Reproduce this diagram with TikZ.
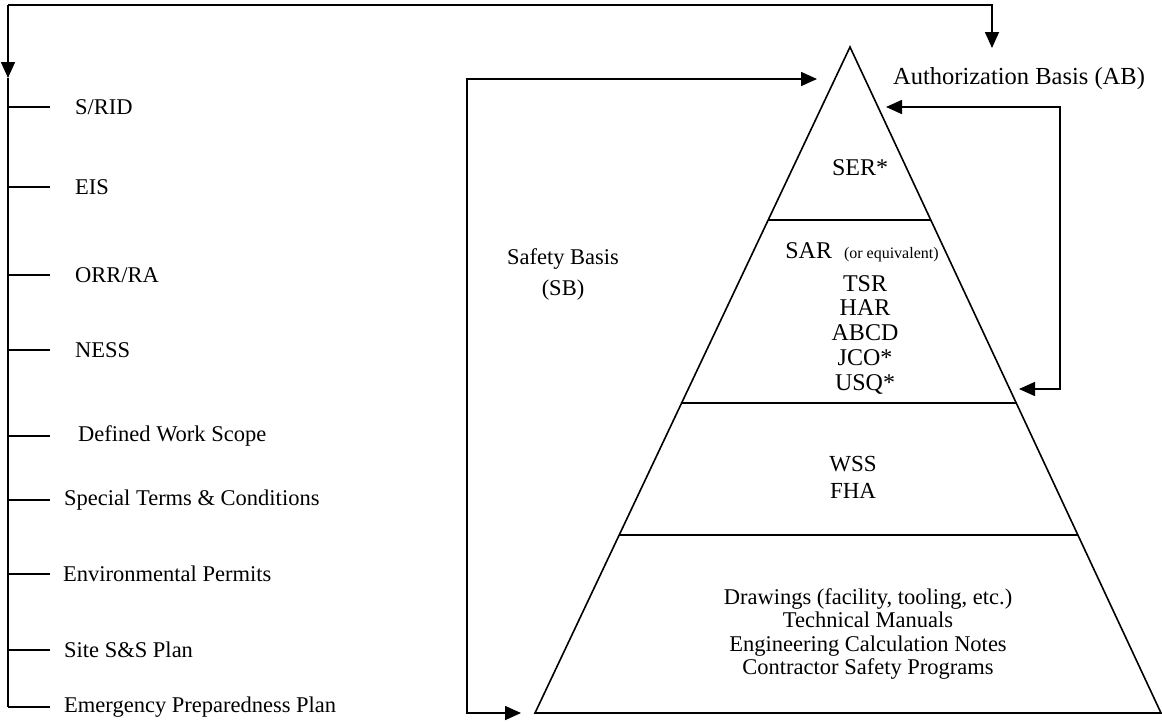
\documentclass[tikz,border=0pt]{standalone}
\usepackage{fontspec}
\setmainfont{Liberation Serif}
\usetikzlibrary{arrows.meta,calc}
\tikzset{
  ln/.style={line width=1.6pt},
  tip/.style={-{Triangle[length=16pt,width=14pt]}},
  tips/.style={{Triangle[length=16pt,width=14pt]}-{Triangle[length=16pt,width=14pt]}},
  lbl/.style={anchor=west,inner sep=0pt,font=\fontsize{22.5}{24}\selectfont},
  txt/.style={inner sep=0pt,align=center,font=\fontsize{22.5}{23.5}\selectfont},
}
\begin{document}
\begin{tikzpicture}[x=1pt,y=-1pt]
\useasboundingbox (0,0) rectangle (1162,724);
% left list
\foreach \i/\yy/\xx/\t in {1/107/75/{S/RID},2/187/75/EIS,3/275/75/{ORR/RA},4/350/75/NESS,5/436/78/Defined Work Scope,6/500/64/Special Terms \& Conditions,7/574/63/Environmental Permits,8/650/64/Site S\&S Plan,9/707/64/Emergency Preparedness Plan}{
  \node[lbl] (l\i) at (\xx,\yy) {\t};
  \coordinate (s\i) at (8,\yy);
  \draw[ln] (s\i) -- ++(42,0);
}
\coordinate (tl) at (8,5);
\coordinate (tr) at (992,5);
\coordinate (abT) at (992,48);
\coordinate (la) at (8,78);
\draw[ln,tip] (tl) -- (tr) -- (abT);
\draw[ln,tip] (tl) -- (la);
\draw[ln] (la) -- (s9);
% pyramid
\coordinate (A) at (850,47);
\coordinate (BL) at (535,713);
\coordinate (BR) at (1161,713);
\draw[ln,line join=miter] (A) -- (BL) -- (BR) -- cycle;
\foreach \f in {0.2598,0.5345,0.7327}{
  \draw[ln] ($(A)!\f!(BL)$) -- ($(A)!\f!(BR)$);
}
% texts in pyramid
\node[txt,font=\fontsize{24}{25}\selectfont] (ser) at (860,168) {SER*};
\node[txt,anchor=base,font=\fontsize{24}{25}\selectfont] (sar) at (862,258) {SAR\ \ {\fontsize{16}{17}\selectfont(or equivalent)}};
\node[txt,anchor=north,font=\fontsize{24}{24.8}\selectfont] (sarl) at (865,275) {TSR\\HAR\\ABCD\\JCO*\\USQ*};
\node[txt,font=\fontsize{23}{27}\selectfont] (wss) at (853,477) {WSS\\FHA};
\node[txt] (drw) at (868,634) {Drawings (facility, tooling, etc.)\\Technical Manuals\\Engineering Calculation Notes\\Contractor Safety Programs};
% basis labels
\node[txt,font=\fontsize{24.5}{26}\selectfont] (ab) at (1019,79) {Authorization Basis (AB)};
\node[txt,font=\fontsize{22.5}{31}\selectfont] (sb) at (563,274) {Safety Basis\\(SB)};
% SB bracket
\coordinate (sbT) at (817,79);
\coordinate (sbB) at (521,713);
\draw[ln,tips] (sbT) -| (467,713) -- (sbB);
% AB bracket
\coordinate (abA) at (886,107);
\coordinate (abB) at (1019,389);
\draw[ln,tips] (abA) -| (1060,389) -- (abB);
\end{tikzpicture}
\end{document}
